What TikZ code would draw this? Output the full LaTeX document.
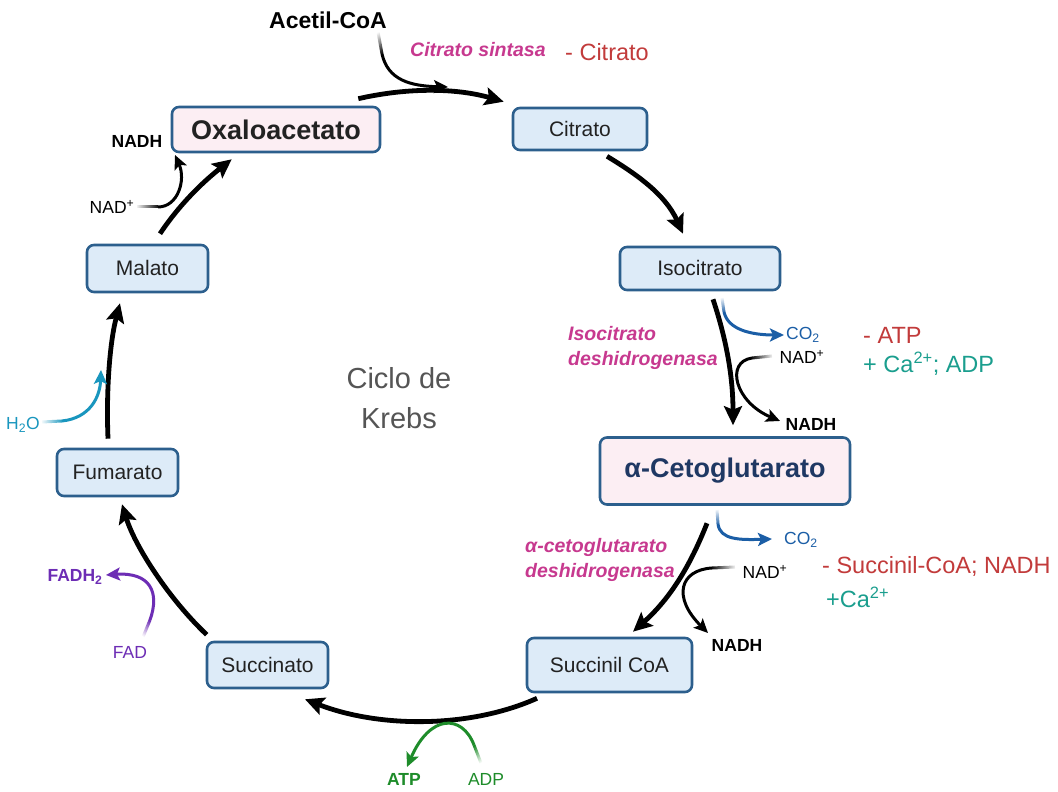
\documentclass[tikz,border=0pt]{standalone}
\usepackage{fontspec}
\setmainfont{Liberation Sans}
\usetikzlibrary{arrows.meta,fadings}
\newcommand{\fsz}[2]{\fontsize{#1}{#2}\selectfont}
\definecolor{boxline}{RGB}{44,95,141}
\definecolor{boxblue}{RGB}{221,235,248}
\definecolor{boxpink}{RGB}{252,238,243}
\definecolor{navy}{RGB}{31,56,99}
\definecolor{enz}{RGB}{199,57,143}
\definecolor{inhib}{RGB}{194,59,59}
\definecolor{activ}{RGB}{26,158,142}
\definecolor{cotwo}{RGB}{27,94,166}
\definecolor{atpgreen}{RGB}{30,140,42}
\definecolor{fadpurple}{RGB}{109,45,181}
\definecolor{water}{RGB}{25,150,190}
\definecolor{txtgray}{RGB}{85,85,85}
\definecolor{boxtext}{RGB}{34,34,34}
\tikzfading[name=fadein, left color=transparent!100, right color=transparent!0]
\begin{document}
\begin{tikzpicture}[x=1pt,y=1pt,
  box/.style={draw=boxline, line width=2.6pt, rounded corners=7pt, align=center, inner sep=0pt},
  bluebx/.style={box, fill=boxblue, text=boxtext, font=\fsz{21}{25}},
  pinkbx/.style={box, fill=boxpink},
  main/.style={line width=4.8pt, -{Stealth[length=19pt,width=18pt,inset=3.5pt]}},
  side/.style={line width=3pt, -{Stealth[length=14pt,width=13pt,inset=3pt]}},
  tail/.style={line width=3pt, path fading=fadein},
  lbl/.style={inner sep=0pt, font=\fsz{17.5}{20}},
  enzlbl/.style={inner sep=0pt, text=enz, font=\fsz{19.5}{25}\bfseries\itshape, align=left, anchor=west},
  reglbl/.style={inner sep=0pt, font=\fsz{23.5}{27}, anchor=west},
]
\useasboundingbox (0,0) rectangle (1058,792);
\fill[white] (0,0) rectangle (1058,792);

% ---- boxes ----
\node[pinkbx, minimum width=208pt, minimum height=45pt, font=\fsz{27}{30}\bfseries, text=boxtext] (oxa) at (276,662.5) {Oxaloacetato};
\node[bluebx, minimum width=134pt, minimum height=42pt] (cit) at (580,663) {Citrato};
\node[bluebx, minimum width=160pt, minimum height=43pt] (iso) at (700,523.5) {Isocitrato};
\node[pinkbx, minimum width=250pt, minimum height=67pt, font=\fsz{27}{30}\bfseries, text=navy] (ceto) at (725,321) {α-Cetoglutarato};
\node[bluebx, minimum width=165pt, minimum height=54pt] (sca) at (609.5,127) {Succinil CoA};
\node[bluebx, minimum width=121pt, minimum height=46pt] (suc) at (267.5,127) {Succinato};
\node[bluebx, minimum width=121pt, minimum height=47pt] (fum) at (117.5,319.5) {Fumarato};
\node[bluebx, minimum width=121pt, minimum height=47pt] (mal) at (147.5,523.5) {Malato};

% ---- centre label ----
\node[inner sep=0pt, align=center, text=txtgray, font=\fsz{29}{40}] (ciclo) at (399,394) {Ciclo de\\Krebs};

% ---- main cycle arrows ----
\draw[main] ([shift={(-23,7)}]oxa.north east) .. controls +(53,12) and +(-45,13) .. ([shift={(-8,5)}]cit.north west);
\draw[main] ([shift={(27,-5)}]cit.south) .. controls +(28,-17) and +(-18,40) .. ([shift={(-17,12)}]iso.north);
\draw[main] ([shift={(13,-8)}]iso.south) .. controls +(14,-42) and +(0,47) .. ([shift={(8,11)}]ceto.north);
\draw[main] ([shift={(-18,-17.5)}]ceto.south) .. controls +(-17,-43) and +(37,33) .. ([shift={(23.5,5)}]sca.north);
\draw[main] ([shift={(-72.5,-5)}]sca.south) .. controls +(-67,-30) and +(75,-29) .. ([shift={(37.5,-10)}]suc.south);
\draw[main] ([shift={(1,6)}]suc.north west) .. controls +(-38,36) and +(13,-42) .. ([shift={(4.5,-7)}]fum.south);
\draw[main] ([shift={(-9.5,9)}]fum.north) .. controls +(-2,50) and +(-10,-38) .. ([shift={(-27.5,-10)}]mal.south);
\draw[main] ([shift={(12.5,10)}]mal.north) .. controls +(20,30) and +(-28,-22) .. ([shift={(61,-6)}]oxa.south west);

% ---- labels ----
\node[lbl, font=\fsz{23}{26}\bfseries] (acetil) at (328,772) {Acetil-CoA};
\node[enzlbl] (csint) at (410,742) {Citrato sintasa};
\node[reglbl, text=inhib] (mcit) at (565,740) {- Citrato};

\node[lbl, font=\fsz{17.5}{20}\bfseries] (nadh1) at (137,651) {NADH};
\node[lbl] (nad1) at (112,585) {NAD\textsuperscript{+}};

\node[enzlbl] (isodh) at (568,444.5) {Isocitrato\\deshidrogenasa};
\node[lbl, text=cotwo] (co2a) at (803,457) {CO\textsubscript{2}};
\node[lbl] (nad2) at (802,435) {NAD\textsuperscript{+}};
\node[lbl, font=\fsz{17.5}{20}\bfseries] (nadh2) at (811,368) {NADH};
\node[reglbl, text=inhib] (matp) at (863,457) {- ATP};
\node[reglbl, text=activ] (pca1) at (863,428) {+ Ca\textsuperscript{2+}; ADP};

\node[enzlbl] (cetodh) at (525,232) {α-cetoglutarato\\deshidrogenasa};
\node[lbl, text=cotwo] (co2b) at (801,252) {CO\textsubscript{2}};
\node[lbl] (nad3) at (765,220) {NAD\textsuperscript{+}};
\node[lbl, font=\fsz{17.5}{20}\bfseries] (nadh3) at (737,147) {NADH};
\node[reglbl, text=inhib] (msca) at (822,226) {- Succinil-CoA; NADH};
\node[reglbl, text=activ] (pca2) at (826,195) {+Ca\textsuperscript{2+}};

\node[lbl, text=fadpurple, font=\fsz{17.5}{20}\bfseries] (fadh) at (75,215) {FADH\textsubscript{2}};
\node[lbl, text=fadpurple] (fad) at (130,140) {FAD};
\node[lbl, text=water] (h2o) at (23,367) {H\textsubscript{2}O};
\node[lbl, text=atpgreen, font=\fsz{17.5}{20}\bfseries] (atp) at (404,13) {ATP};
\node[lbl, text=atpgreen] (adp) at (486,13) {ADP};

% ---- side-arrow coordinates ----
\coordinate (ac0) at (378,760); \coordinate (ac1) at (382,738); \coordinate (ac2) at (448,705);
\coordinate (na0) at (137,585); \coordinate (na1) at (158,585); \coordinate (na2) at (175,637);
\coordinate (ca0) at (722,494); \coordinate (ca1) at (724,480); \coordinate (ca2) at (784,457);
\coordinate (nb0) at (772,436); \coordinate (nb1) at (752,434); \coordinate (nb2) at (780,371);
\coordinate (cb0) at (717,282); \coordinate (cb1) at (718,268); \coordinate (cb2) at (772,253);
\coordinate (nc0) at (735,225); \coordinate (nc1) at (712,224); \coordinate (nc2) at (708,159);
\coordinate (ad0) at (481,29);  \coordinate (ad1) at (474,47);  \coordinate (ad2) at (407,25);
\coordinate (fd0) at (143,155); \coordinate (fd1) at (150,172); \coordinate (fd2) at (106,217);
\coordinate (hw0) at (42,370);  \coordinate (hw1) at (62,371);  \coordinate (hw2) at (101,422);

% ---- side arrows ----
% Acetil-CoA
\draw[tail, black, fading angle=-80] (ac0) -- (ac1);
\draw[side, black] (ac1) .. controls (388,712) and (410,706) .. (ac2);
% NAD+ -> NADH (malate)
\draw[tail, black, fading angle=0] (na0) -- (na1);
\draw[side, black] (na1) .. controls (178,585) and (186,612) .. (na2);
% CO2 (isocitrate)
\draw[tail, cotwo, fading angle=-85] (ca0) -- (ca1);
\draw[side, cotwo] (ca1) .. controls (728,462) and (752,457) .. (ca2);
% NAD+ -> NADH (isocitrate)
\draw[tail, black, fading angle=180] (nb0) -- (nb1);
\draw[side, black] (nb1) .. controls (725,430) and (735,390) .. (nb2);
% CO2 (alpha-KG)
\draw[tail, cotwo, fading angle=-88] (cb0) -- (cb1);
\draw[side, cotwo] (cb1) .. controls (720,252) and (740,252) .. (cb2);
% NAD+ -> NADH (alpha-KG)
\draw[tail, black, fading angle=180] (nc0) -- (nc1);
\draw[side, black] (nc1) .. controls (680,222) and (672,195) .. (nc2);
% ADP -> ATP
\draw[tail, atpgreen, fading angle=110] (ad0) -- (ad1);
\draw[side, atpgreen] (ad1) .. controls (462,78) and (430,78) .. (ad2);
% FAD -> FADH2
\draw[tail, fadpurple, fading angle=70] (fd0) -- (fd1);
\draw[side, fadpurple] (fd1) .. controls (160,200) and (150,220) .. (fd2);
% H2O
\draw[tail, water, fading angle=0] (hw0) -- (hw1);
\draw[side, water] (hw1) .. controls (90,374) and (100,395) .. (hw2);
\end{tikzpicture}
\end{document}
